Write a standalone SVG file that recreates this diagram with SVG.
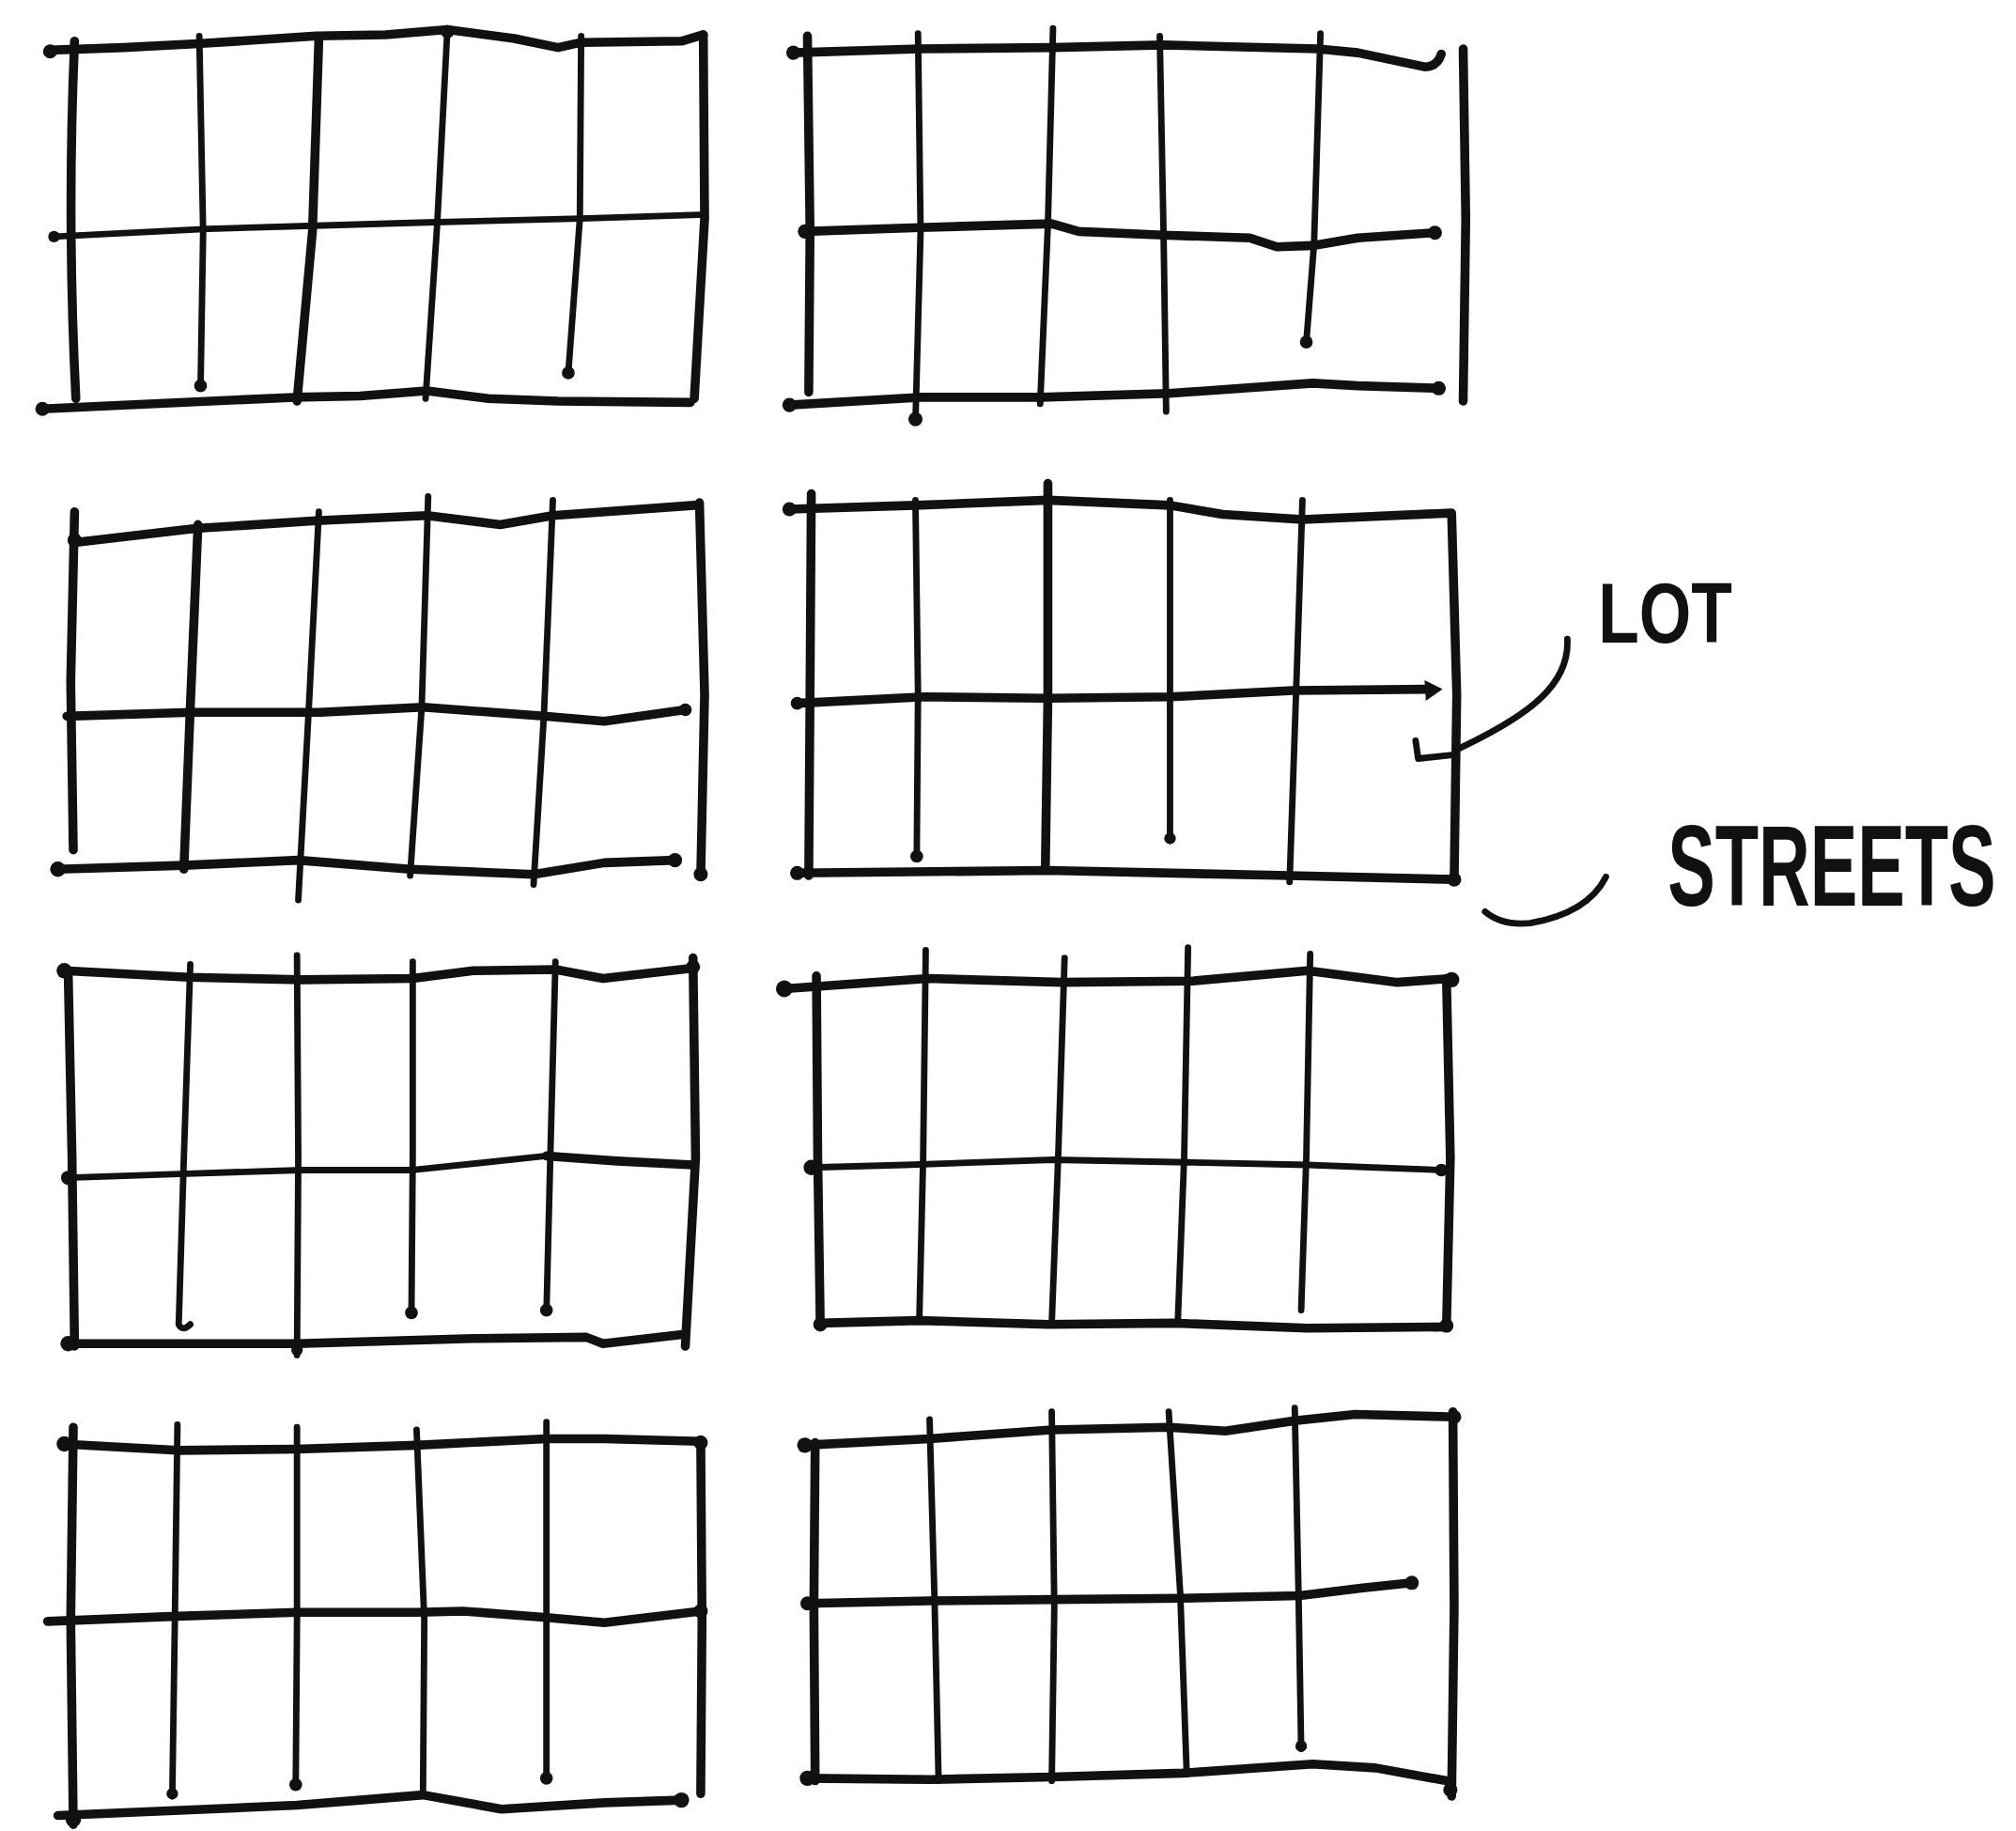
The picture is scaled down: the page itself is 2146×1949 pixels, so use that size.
<svg xmlns="http://www.w3.org/2000/svg" width="2146" height="1949" viewBox="0 0 2146 1949">
<style>
.s{fill:none;stroke:#111;stroke-width:5;stroke-linecap:round;stroke-linejoin:round}
.b{stroke-width:7}
.d{fill:#111}
.lbl{font-family:"Liberation Sans","DejaVu Sans",Arial,sans-serif;font-weight:bold;fill:#111}
</style>
<rect width="2146" height="1949" fill="#ffffff"/>
<g transform="scale(1.36865)">
<g id="block-1">
<path class="s b" d="M39,39 L96,37 154,34 246,28 300,27 348,23 400,30 434,37 452,33 530,32 547,27"/>
<path class="s b" d="M58,32 Q52,170 59,310"/>
<path class="s" d="M155,28 L158,180 156,300"/>
<path class="s b" d="M248,30 L243,180 231,312"/>
<path class="s" d="M348,22 L340,175 331,310"/>
<path class="s" d="M452,28 L451,170 442,290"/>
<path class="s b" d="M547,27 L548,170 540,310"/>
<path class="s" d="M42,184 L162,178 264,175 332,173 452,170 544,167"/>
<path class="s b" d="M33,318 L120,314 229,309 280,308 332,304 380,310 434,312 537,313"/>
<circle class="d" cx="39" cy="40" r="5.5"/><circle class="d" cx="156" cy="300" r="5"/><circle class="d" cx="442" cy="290" r="5"/><circle class="d" cx="33" cy="318" r="5.5"/><circle class="d" cx="42" cy="184" r="4.5"/><circle class="d" cx="348" cy="25" r="5"/>
</g>
<g id="block-2">
<path class="s b" d="M617,41 L715,38 818,37 905,35 1025,38 1056,41 1108,52 Q1118,52 1121,42"/>
<path class="s b" d="M1138,38 L1140,170 1138,312"/>
<path class="s b" d="M628,28 L630,180 629,305"/>
<path class="s" d="M714,26 L716,180 712,328"/>
<path class="s" d="M819,22 L815,175 809,314"/>
<path class="s" d="M902,28 L905,183 907,320"/>
<path class="s" d="M1027,26 L1022,190 1016,266"/>
<path class="s b" d="M626,180 L715,177 818,174 839,180 909,183 972,185 993,192 1021,191 1056,185 1116,181"/>
<path class="s b" d="M614,315 L715,309 810,309 909,306 1021,298 1056,300 1119,302"/>
<circle class="d" cx="617" cy="41" r="5.5"/><circle class="d" cx="626" cy="180" r="5.5"/><circle class="d" cx="1116" cy="181" r="5.5"/><circle class="d" cx="1119" cy="302" r="5.5"/><circle class="d" cx="1016" cy="266" r="5"/><circle class="d" cx="614" cy="315" r="5.5"/><circle class="d" cx="712" cy="326" r="5.5"/>
</g>
<g id="block-3">
<path class="s b" d="M58,422 L152,411 246,405 332,401 389,408 430,401 540,393"/>
<path class="s b" d="M58,398 L55,530 57,661"/>
<path class="s b" d="M154,408 L148,550 143,676"/>
<path class="s" d="M248,398 L240,554 232,700"/>
<path class="s" d="M333,386 L328,550 319,681"/>
<path class="s" d="M430,389 L423,557 415,688"/>
<path class="s b" d="M544,391 L548,540 545,681"/>
<path class="s b" d="M52,557 L149,554 249,554 329,550 423,557 470,561 533,552"/>
<path class="s b" d="M45,676 L143,673 232,669 319,676 415,680 470,671 525,669"/>
<circle class="d" cx="58" cy="420" r="5.5"/><circle class="d" cx="545" cy="680" r="5.5"/><circle class="d" cx="525" cy="669" r="5.5"/><circle class="d" cx="45" cy="676" r="6"/><circle class="d" cx="533" cy="552" r="5"/>
</g>
<g id="block-4">
<path class="s b" d="M614,396 L712,393 815,389 910,393 951,400 1013,404 1129,399 L1133,540 1131,684 L1003,681 815,677 620,679"/>
<path class="s b" d="M631,384 L630,540 629,681"/>
<path class="s" d="M712,389 L714,540 713,666"/>
<path class="s b" d="M815,376 L815,543 813,676"/>
<path class="s" d="M910,389 L910,542 910,654"/>
<path class="s" d="M1013,389 L1008,540 1003,686"/>
<path class="s b" d="M620,547 L719,542 815,543 910,542 1006,537 1112,536"/>
<path class="d" d="M1108,529 L1122,536 1109,545 Z"/>
<path class="s" d="M1101,576 L1103,590 1131,587"/>
<circle class="d" cx="614" cy="396" r="5.5"/><circle class="d" cx="620" cy="547" r="5"/><circle class="d" cx="713" cy="666" r="5"/><circle class="d" cx="910" cy="652" r="4.5"/><circle class="d" cx="1131" cy="684" r="5.5"/><circle class="d" cx="620" cy="679" r="5.5"/>
</g>
<g id="labels">
<path class="s" d="M1219,497 C1221,532 1190,556 1135,582"/>
<text class="lbl" transform="translate(1243,500) scale(0.79,1)" font-size="66">LOT</text>
<path class="s" d="M1249,682 Q1235,710 1190,718 Q1168,720 1155,709"/>
<text class="lbl" transform="translate(1297,704) scale(0.615,1)" font-size="90">STREETS</text>
</g>
<g id="block-5">
<path class="s b" d="M50,755 L147,760 234,762 321,761 368,755 432,754 469,761 539,753"/>
<path class="s b" d="M53,755 L56,900 58,1047"/>
<path class="s" d="M148,750 L143,900 139,1030 Q142,1036 148,1030"/>
<path class="s" d="M231,743 L232,900 231,1054"/>
<path class="s" d="M321,748 L321,900 320,1023"/>
<path class="s" d="M432,748 L428,900 425,1021"/>
<path class="s b" d="M539,745 L541,900 533,1047"/>
<path class="s" d="M53,916 L140,913 234,910 321,910 425,899"/>
<path class="s b" d="M425,899 L480,903 539,906"/>
<path class="s b" d="M53,1045 L231,1045 368,1041 456,1040 469,1045 529,1038"/>
<circle class="d" cx="50" cy="755" r="6"/><circle class="d" cx="53" cy="916" r="5.5"/><circle class="d" cx="320" cy="1021" r="5"/><circle class="d" cx="425" cy="1019" r="5"/><circle class="d" cx="539" cy="752" r="5.5"/><circle class="d" cx="53" cy="1045" r="6"/><circle class="d" cx="231" cy="1050" r="4.5"/>
</g>
<g id="block-6">
<path class="s b" d="M610,769 L722,761 826,764 927,763 1017,755 1087,764 1129,761"/>
<path class="s b" d="M635,759 L636,900 638,1032"/>
<path class="s" d="M720,739 L718,900 715,1027"/>
<path class="s" d="M828,745 L823,900 818,1029"/>
<path class="s" d="M924,737 L921,900 916,1029"/>
<path class="s" d="M1019,742 L1016,900 1012,1019"/>
<path class="s b" d="M1125,761 L1128,900 1125,1032"/>
<path class="s" d="M631,908 L704,906 819,902 924,904 1017,906 1121,910"/>
<path class="s b" d="M638,1029 L715,1027 815,1030 913,1029 1017,1033 1125,1032"/>
<circle class="d" cx="610" cy="769" r="6.5"/><circle class="d" cx="631" cy="908" r="6"/><circle class="d" cx="1129" cy="762" r="6"/><circle class="d" cx="1121" cy="910" r="5"/><circle class="d" cx="638" cy="1030" r="5.5"/><circle class="d" cx="1125" cy="1031" r="5.5"/>
</g>
<g id="block-7">
<path class="s b" d="M48,1123 L138,1128 231,1127 324,1124 425,1119 470,1119 545,1121"/>
<path class="s b" d="M57,1110 L55,1260 57,1419"/>
<path class="s" d="M138,1108 L136,1260 134,1397"/>
<path class="s" d="M231,1110 L231,1260 230,1390"/>
<path class="s" d="M324,1112 L330,1260 329,1396"/>
<path class="s" d="M425,1106 L425,1260 425,1385"/>
<path class="s b" d="M545,1120 L546,1260 545,1395"/>
<path class="s b" d="M37,1261 L138,1257 231,1254 324,1254 360,1253 425,1258 470,1262 545,1253"/>
<path class="s b" d="M45,1412 L231,1404 280,1400 329,1396 390,1407 470,1402 530,1400"/>
<circle class="d" cx="50" cy="1123" r="6"/><circle class="d" cx="134" cy="1395" r="4.5"/><circle class="d" cx="230" cy="1388" r="5"/><circle class="d" cx="425" cy="1383" r="5"/><circle class="d" cx="530" cy="1400" r="6"/><circle class="d" cx="545" cy="1122" r="5.5"/><circle class="d" cx="545" cy="1253" r="5.5"/><circle class="d" cx="57" cy="1415" r="6"/>
</g>
<g id="block-8">
<path class="s b" d="M625,1124 L723,1119 818,1112 909,1110 953,1113 1007,1105 1054,1100 1132,1102"/>
<path class="s b" d="M634,1122 L633,1250 634,1385"/>
<path class="s" d="M723,1104 L727,1250 730,1385"/>
<path class="s" d="M818,1098 L820,1250 818,1385"/>
<path class="s" d="M909,1098 L918,1240 923,1380"/>
<path class="s" d="M1007,1095 L1010,1242 1012,1360"/>
<path class="s b" d="M1130,1098 L1131,1250 1129,1397"/>
<path class="s b" d="M628,1247 L723,1245 818,1244 920,1243 1011,1241 1060,1235 1098,1231"/>
<path class="s b" d="M628,1383 L723,1384 818,1382 920,1379 1021,1372 1070,1375 1125,1385"/>
<circle class="d" cx="626" cy="1124" r="6"/><circle class="d" cx="628" cy="1247" r="5.5"/><circle class="d" cx="1098" cy="1231" r="5.5"/><circle class="d" cx="1012" cy="1358" r="4.5"/><circle class="d" cx="628" cy="1383" r="6"/><circle class="d" cx="1128" cy="1392" r="5.5"/><circle class="d" cx="1131" cy="1102" r="5.5"/>
</g>
</g>
</svg>
